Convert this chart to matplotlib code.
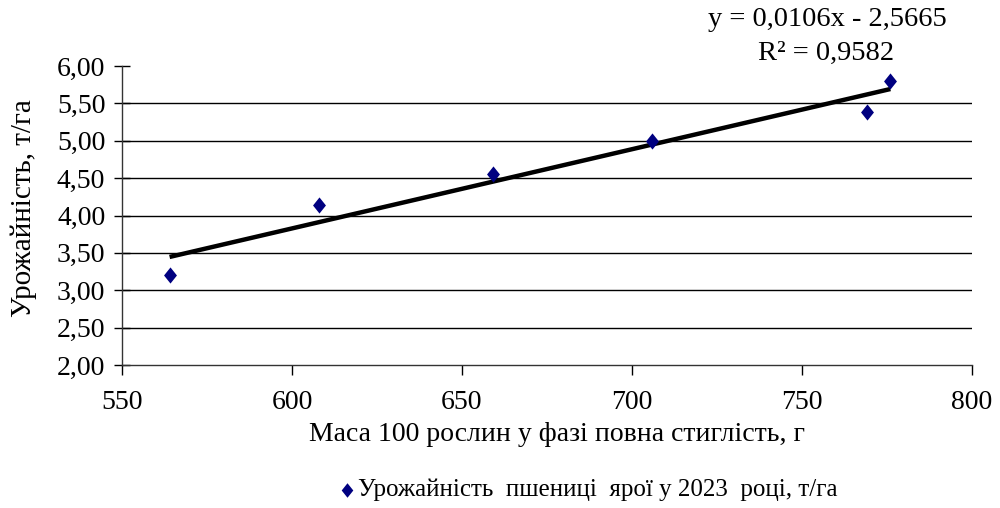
import numpy as np
import matplotlib
matplotlib.use("Agg")
import matplotlib.pyplot as plt
from matplotlib.ticker import FuncFormatter, MultipleLocator

plt.rcParams['font.family'] = ['Liberation Serif', 'DejaVu Serif']

mass = [564, 608, 659, 706, 769, 776]
yield_t = [3.20, 4.14, 4.56, 4.99, 5.38, 5.80]
series_label = "Урожайність  пшениці  ярої у 2023  році, т/га"
eq_text = "y = 0,0106x - 2,5665"
r2_text = "R² = 0,9582"
xlabel = "Маса 100 рослин у фазі повна стиглість, г"
ylabel = "Урожайність, т/га"

fig = plt.figure(figsize=(10, 5.08), dpi=100)
ax = fig.add_axes([0.122, 1 - 365 / 508, 0.850, (365 - 66) / 508])

diamond = [(0, 1), (0.8, 0), (0, -1), (-0.8, 0), (0, 1)]

coef = np.polyfit(mass, yield_t, 1)
xs = np.array([min(mass), max(mass)])
ax.plot(xs, np.polyval(coef, xs), color='black', lw=3.2, zorder=3, solid_capstyle='butt')
ax.scatter(mass, yield_t, marker=diamond, s=135, color='#000080', zorder=4,
           linewidths=0, label=series_label)

ax.set_xlim(550, 800)
ax.set_ylim(2.0, 6.0)
ax.xaxis.set_major_locator(MultipleLocator(50))
ax.yaxis.set_major_locator(MultipleLocator(0.5))
ax.yaxis.set_major_formatter(FuncFormatter(lambda v, p: f"{v:.2f}".replace('.', ',')))
for yv in np.arange(2.5, 5.51, 0.5):
    ax.axhline(yv, color='black', lw=1.0, zorder=1)
for s in ['top', 'right']:
    ax.spines[s].set_visible(False)
for s in ['left', 'bottom']:
    ax.spines[s].set_color('#333333')
    ax.spines[s].set_linewidth(1.0)
ax.tick_params(axis='both', labelsize=20, colors='black', width=1)
ax.tick_params(axis='y', direction='inout', length=12, pad=6)
ax.tick_params(axis='x', direction='out', length=7, pad=11)

ax.set_xlabel(xlabel, fontsize=20)
ax.xaxis.set_label_coords(0.512, -0.19)
ax.set_ylabel(ylabel, fontsize=21)
ax.yaxis.set_label_coords(-0.100, 0.525)

fig.text(0.827, 1 - 19 / 508, eq_text, ha='center', va='center', fontsize=20.5)
fig.text(0.826, 1 - 53 / 508, r2_text, ha='center', va='center', fontsize=20.5)

leg = fig.legend(loc='center left', bbox_to_anchor=(0.341, 1 - 490 / 508), frameon=False,
                 fontsize=18, handlelength=0.5, handletextpad=0.2, borderpad=0,
                 borderaxespad=0, markerscale=0.9)

fig.savefig("out.png", dpi=100)
